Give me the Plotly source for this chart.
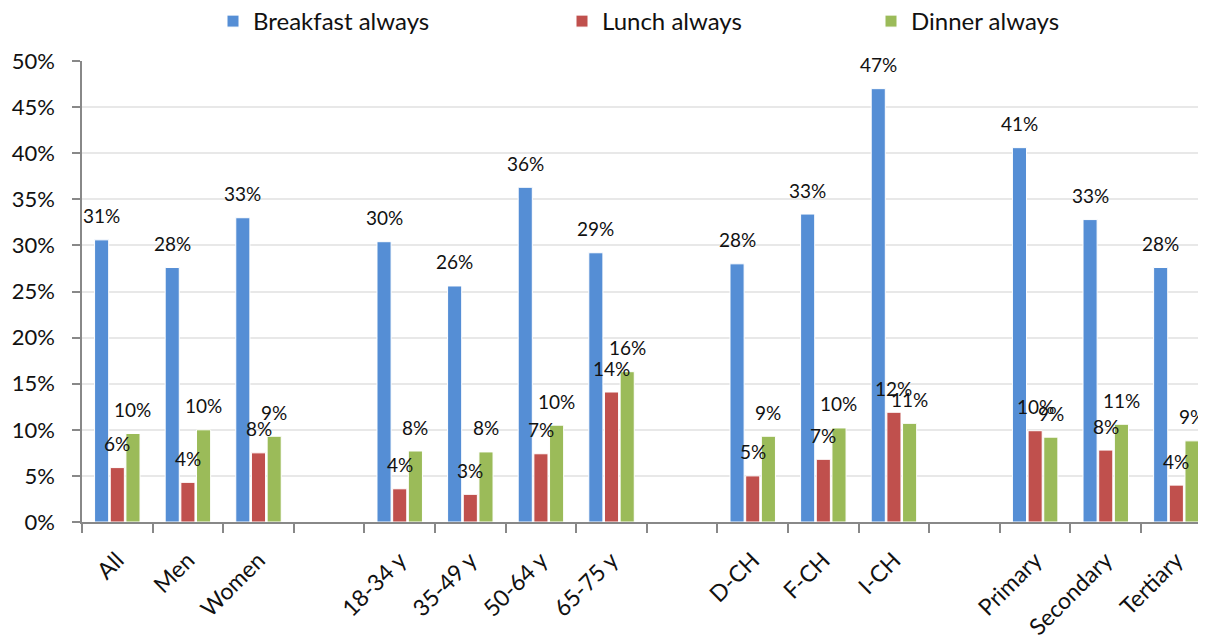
import plotly.graph_objects as go

categories = ["All", "Men", "Women", " ", "18-34 y", "35-49 y", "50-64 y", "65-75 y", "  ",
              "D-CH", "F-CH", "I-CH", "   ", "Primary", "Secondary", "Tertiary"]
breakfast = [30.6, 27.6, 33.0, None, 30.4, 25.6, 36.3, 29.2, None, 28.0, 33.4, 47.0, None, 40.6, 32.8, 27.6]
lunch = [5.9, 4.3, 7.5, None, 3.6, 3.0, 7.4, 14.1, None, 5.0, 6.8, 11.9, None, 9.9, 7.8, 4.0]
dinner = [9.6, 10.0, 9.3, None, 7.7, 7.6, 10.5, 16.3, None, 9.3, 10.2, 10.7, None, 9.2, 10.6, 8.8]
series_names = ["Breakfast always", "Lunch always", "Dinner always"]
colors = ["#558ED5", "#C0504D", "#9BBB59"]

FONT = "Lato"
fig = go.Figure()
all_series = [breakfast, lunch, dinner]
legend_ids = ["legend", "legend2", "legend3"]
for i, (name, vals, col) in enumerate(zip(series_names, all_series, colors)):
    fig.add_trace(go.Bar(
        x=categories, y=vals, name=name,
        marker=dict(color=col, line=dict(color="white", width=1)),
        legend=legend_ids[i], showlegend=True,
    ))

# data labels
pitch = 15.6
for i, vals in enumerate(all_series):
    for c, v in zip(categories, vals):
        if v is None:
            continue
        fig.add_annotation(x=c, y=v, text=f"{round(v):.0f}%", showarrow=False,
                           xshift=(i - 1) * pitch, yshift=24,
                           font=dict(family=FONT, size=19, color="#111"))

# page has an 8px body margin; figure sized to fit inside the window
FW, FH = 1198, 631
L = 74
T = 53
B = 117
PH = FH - T - B
W = FW - L
legend_common = dict(orientation="h", yanchor="top", y=1 + (T + 9) / PH, yref="paper",
                     xanchor="left", xref="paper",
                     font=dict(family=FONT, size=24, color="#111"),
                     bgcolor="rgba(0,0,0,0)", itemwidth=30)
fig.update_layout(
    width=FW, height=FH,
    margin=dict(l=L, r=0, t=T, b=B, autoexpand=False),
    plot_bgcolor="white", paper_bgcolor="white",
    barmode="group", bargap=0.334, bargroupgap=0.1,
    font=dict(family=FONT, color="#111"),
    legend=dict(**legend_common, x=(205 - L) / W),
    legend2=dict(**legend_common, x=(554 - L) / W),
    legend3=dict(**legend_common, x=(863 - L) / W),
    xaxis=dict(type="category", categoryorder="array", categoryarray=categories,
               range=[-0.5, 15.42], tickangle=-45, tickson="boundaries",
               ticks="outside", ticklen=9, tickcolor="#888", tickwidth=1.5,
               showline=True, linecolor="#888", linewidth=1.5, automargin=False,
               ticklabelstandoff=14,
               tickfont=dict(family=FONT, size=23, color="#111"), showgrid=False),
    yaxis=dict(range=[0, 50], dtick=5, ticksuffix="%", ticks="outside", ticklen=8,
               tickcolor="#888", tickwidth=1.5, showline=True, linecolor="#888", linewidth=1.5,
               gridcolor="#E8E8E8", gridwidth=1.5, zeroline=False, automargin=False,
               ticklabelstandoff=13,
               tickfont=dict(family=FONT, size=22, color="#111")),
)
fig.write_html("out.html")
